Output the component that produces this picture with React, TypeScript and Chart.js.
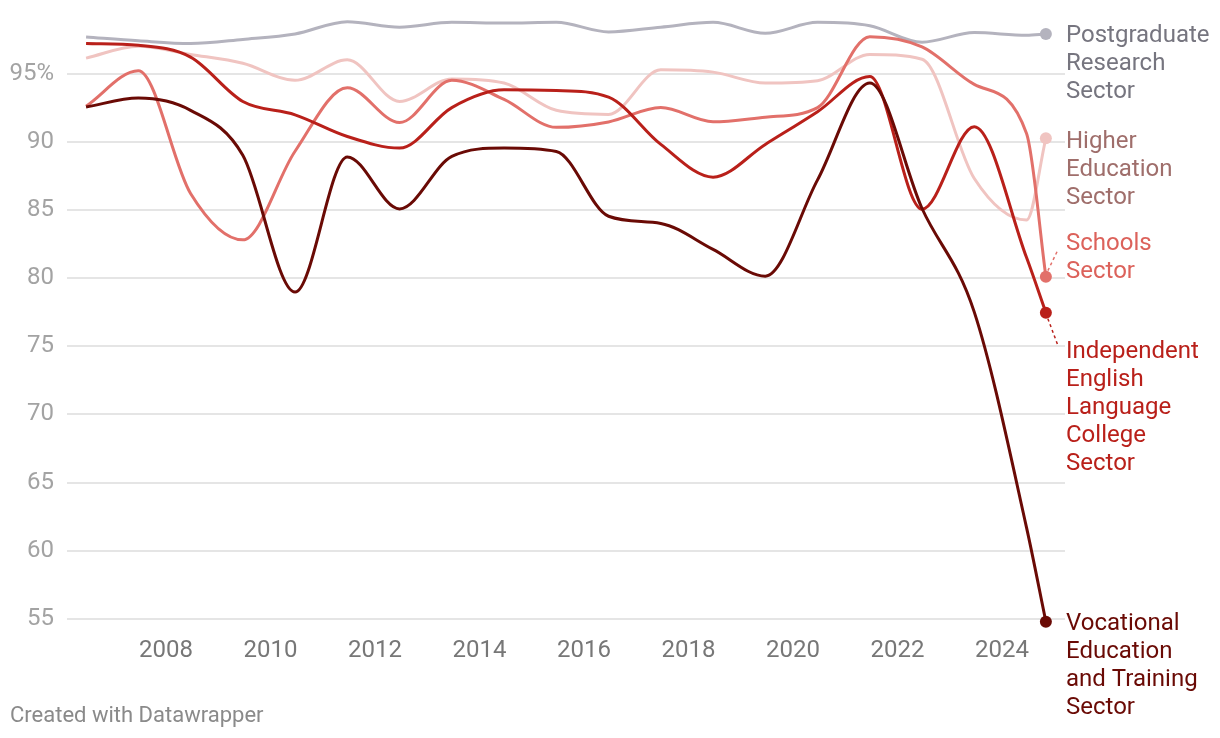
import React, { useEffect, useRef } from "react";
import { Chart, registerables } from "chart.js";

Chart.register(...registerables);

// Decimal years of each observation
const YEARS = [
  2006.47, 2007.47, 2008.47, 2009.47, 2010.47, 2011.47, 2012.47, 2013.47, 2014.47, 2015.47,
  2016.47, 2017.47, 2018.47, 2019.47, 2020.47, 2021.47, 2022.47, 2023.47, 2024.47, 2024.84,
];

const POSTGRAD = [97.68, 97.4, 97.2, 97.5, 97.9, 98.8, 98.4, 98.75, 98.7, 98.75, 98.05, 98.4, 98.75, 97.95, 98.75, 98.5, 97.3, 98.0, 97.8, 97.9];
const HIGHER_ED = [96.13, 97.0, 96.4, 95.75, 94.5, 96.0, 92.95, 94.6, 94.3, 92.3, 92.0, 95.27, 95.1, 94.3, 94.47, 96.4, 96.05, 87.3, 84.25, 90.25];
const SCHOOLS = [92.6, 95.2, 86.2, 82.8, 89.3, 93.95, 91.4, 94.5, 93.1, 91.05, 91.45, 92.5, 91.46, 91.8, 92.5, 97.7, 96.95, 94.2, 90.6, 80.1];
const ELICOS = [97.2, 97.07, 96.2, 92.95, 91.97, 90.38, 89.53, 92.5, 93.8, 93.75, 93.27, 89.8, 87.4, 89.8, 92.2, 94.78, 85.05, 91.1, 81.5, 77.46];
const VET = [92.54, 93.2, 92.3, 89.0, 78.97, 88.88, 85.07, 88.92, 89.53, 89.28, 84.53, 84.0, 82.1, 80.14, 87.2, 94.3, 85.1, 77.5, 61.7, 54.8];

const X_TICKS = [2008, 2010, 2012, 2014, 2016, 2018, 2020, 2022, 2024];
const Y_TICKS = [55, 60, 65, 70, 75, 80, 85, 90, 95];

const SERIES_LABELS = [
  ["Postgraduate", "Research", "Sector"],
  ["Higher", "Education", "Sector"],
  ["Schools", "Sector"],
  ["Independent", "English", "Language", "College", "Sector"],
  ["Vocational", "Education", "and Training", "Sector"],
];

const LINE_COLORS = ["#b4b3be", "#f0c4c1", "#e2706a", "#b9201a", "#6a0a05"];
const TEXT_COLORS = ["#76757f", "#9f6e6b", "#dc625b", "#b9201a", "#6a0a05"];
// label offset (px) of first text line relative to the end dot; connector flag
const LABEL_OFFSETS = [2, 4, -33, 39, 2];
const LABEL_CONNECTOR = [false, false, true, true, false];

const FONT = "Roboto, 'Noto Sans', sans-serif";

const endLabels = {
  id: "endLabels",
  afterDatasetsDraw(chart: any) {
    const ctx = chart.ctx as CanvasRenderingContext2D;
    const area = chart.chartArea;
    ctx.save();
    chart.data.datasets.forEach((_ds: any, i: number) => {
      const meta = chart.getDatasetMeta(i);
      const pt = meta.data[meta.data.length - 1];
      const x0 = area.right + 1;
      const y0 = pt.y + LABEL_OFFSETS[i];
      if (LABEL_CONNECTOR[i]) {
        ctx.save();
        ctx.strokeStyle = LINE_COLORS[i];
        ctx.lineWidth = 1.5;
        ctx.setLineDash([3, 3]);
        ctx.beginPath();
        const dir = LABEL_OFFSETS[i] < 0 ? -1 : 1;
        ctx.moveTo(pt.x + 2, pt.y + dir * 6);
        ctx.lineTo(x0 - 8, y0 - dir * 6);
        ctx.stroke();
        ctx.restore();
      }
      ctx.fillStyle = TEXT_COLORS[i];
      ctx.font = `24px ${FONT}`;
      ctx.textAlign = "left";
      ctx.textBaseline = "middle";
      SERIES_LABELS[i].forEach((line, j) => {
        ctx.fillText(line, x0, y0 + j * 28);
      });
    });
    ctx.fillStyle = "#8a8a8a";
    ctx.font = `22px ${FONT}`;
    ctx.textAlign = "left";
    ctx.textBaseline = "middle";
    ctx.fillText("Created with Datawrapper", 10, 716);
    ctx.restore();
  },
};

export default function App() {
  const canvasRef = useRef<HTMLCanvasElement | null>(null);

  useEffect(() => {
    if (!canvasRef.current) return;
    const series = [POSTGRAD, HIGHER_ED, SCHOOLS, ELICOS, VET];
    const chart = new Chart(canvasRef.current, {
      type: "line",
      data: {
        datasets: series.map((vals, i) => ({
          label: SERIES_LABELS[i].join(" "),
          data: vals.map((v, k) => ({ x: YEARS[k], y: v })),
          borderColor: LINE_COLORS[i],
          backgroundColor: LINE_COLORS[i],
          borderWidth: 3,
          cubicInterpolationMode: "monotone" as const,
          pointRadius: (c: any) => (c.dataIndex === vals.length - 1 ? 6 : 0),
          pointHoverRadius: 0,
          pointBorderWidth: 0,
          pointBackgroundColor: LINE_COLORS[i],
          fill: false,
          order: 4 - i,
        })),
      },
      options: {
        animation: false,
        responsive: false,
        layout: { padding: { top: 12, right: 155, left: 0, bottom: 0 } },
        plugins: { legend: { display: false }, tooltip: { enabled: false } },
        scales: {
          x: {
            type: "linear",
            min: 2006.105,
            max: 2025.206,
            grid: { display: false, drawTicks: false },
            border: { display: false },
            ticks: {
              color: "#777777",
              font: { family: FONT, size: 24 },
              padding: 7,
              maxRotation: 0,
              autoSkip: false,
              callback: (v: any) => String(v),
            },
            afterBuildTicks: (s: any) => {
              s.ticks = X_TICKS.map((v) => ({ value: v }));
            },
            afterFit: (s: any) => {
              s.height = 108;
              s.paddingLeft = 0;
              s.paddingRight = 0;
            },
          },
          y: {
            type: "linear",
            min: 54.19,
            max: 99.51,
            grid: { color: "#e5e5e5", lineWidth: 2, drawTicks: false },
            border: { display: false },
            ticks: {
              color: "#a3a3a3",
              font: { family: FONT, size: 24 },
              padding: 13,
              callback: (v: any) => (v === 95 ? "95%" : String(v)),
            },
            afterBuildTicks: (s: any) => {
              s.ticks = Y_TICKS.map((v) => ({ value: v }));
            },
            afterFit: (s: any) => {
              s.width = 67;
              s.paddingTop = 0;
              s.paddingBottom = 0;
            },
          },
        },
      },
      plugins: [endLabels],
    });
    return () => chart.destroy();
  }, []);

  return (
    <div style={{ position: "absolute", left: 0, top: 0, width: 1220, height: 738, background: "#fff" }}>
      <canvas ref={canvasRef} width={1220} height={738} style={{ display: "block" }} />
    </div>
  );
}
